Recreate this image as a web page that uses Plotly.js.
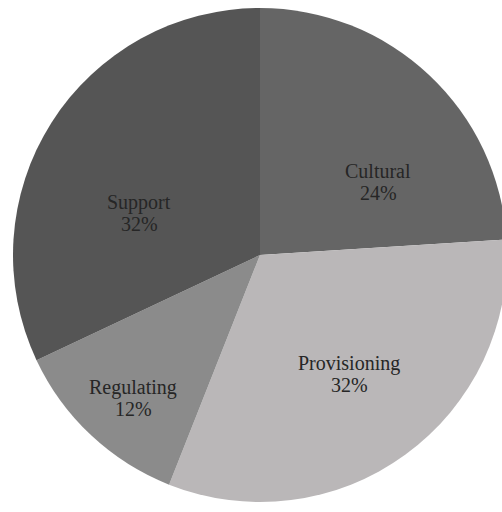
<!DOCTYPE html>
<html>
<head>
<meta charset="utf-8">
<script src="https://cdn.plot.ly/plotly-3.0.1.min.js"></script>
<style>html,body{margin:0;padding:0;background:#fff;overflow:hidden;}#chart{width:502px;height:512px;overflow:hidden;}</style>
</head>
<body>
<div id="chart"></div>
<script>
const categories = ["Cultural", "Provisioning", "Regulating", "Support"];
const values = [24, 32, 12, 32];
const sliceColors = ["#656565", "#bab7b8", "#8b8b8b", "#555555"];

// label anchor positions (pixels from top-left), one per category
const labelX = [378, 349, 133, 139];
const labelY = [182, 374, 398, 213];

const W = 507, H = 512;
const M = {l: 13, r: 0, t: 8, b: 10};
const PW = W - M.l - M.r, PH = H - M.t - M.b;
const total = values.reduce((a, b) => a + b, 0);
const fontSpec = {family: "Liberation Serif, Times New Roman, serif", size: 20, color: "#262626"};
const annotations = [];
categories.forEach((c, i) => {
  const pct = Math.round(values[i] / total * 100) + "%";
  const ax = (labelX[i] - M.l) / PW;
  annotations.push({xref: "paper", yref: "paper", x: ax, y: 1 - (labelY[i] - 11 - M.t) / PH,
    text: c, showarrow: false, font: fontSpec, xanchor: "center", yanchor: "middle"});
  annotations.push({xref: "paper", yref: "paper", x: ax, y: 1 - (labelY[i] + 11 - M.t) / PH,
    text: pct, showarrow: false, font: fontSpec, xanchor: "center", yanchor: "middle"});
});

const data = [{
  type: "pie",
  labels: categories,
  values: values,
  sort: false,
  direction: "clockwise",
  rotation: 0,
  marker: {colors: sliceColors, line: {width: 0}},
  textinfo: "none",
  hoverinfo: "none",
  showlegend: false,
  domain: {x: [0, 1], y: [0, 1]}
}];

const layout = {
  width: W,
  height: H,
  margin: M,
  paper_bgcolor: "#ffffff",
  showlegend: false,
  annotations: annotations
};

Plotly.newPlot("chart", data, layout, {displayModeBar: false, staticPlot: true});
</script>
</body>
</html>
